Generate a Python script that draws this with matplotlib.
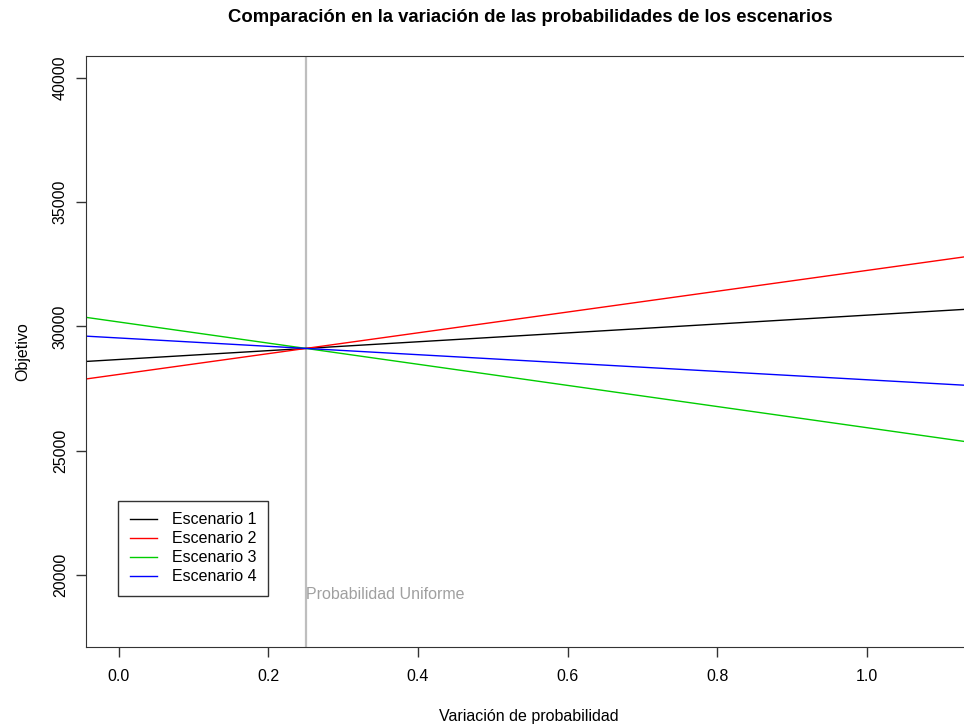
import numpy as np
import matplotlib.pyplot as plt

# Objective value for each scenario as its probability varies
prob = [-0.1, 0.25, 1.2]
escenario_1 = [28490, 29114, 30809]
escenario_2 = [27650, 29114, 33088]
escenario_3 = [30602, 29114, 25075]
escenario_4 = [29702, 29114, 27517]
series = [escenario_1, escenario_2, escenario_3, escenario_4]
labels = ["Escenario 1", "Escenario 2", "Escenario 3", "Escenario 4"]
colors = ["black", "#FF0000", "#00CD00", "#0000FF"]

uniform_p = 0.25

plt.rcParams.update({
    "font.family": ["Liberation Sans", "DejaVu Sans"],
    "font.size": 11.5,
})

fig = plt.figure(figsize=(9.64, 7.25), dpi=100)
ax = fig.add_axes([86 / 964, 1 - 647 / 725, 1 - 86 / 964, (647 - 56) / 725])

for vals, lab, c in zip(series, labels, colors):
    ax.plot(prob, vals, color=c, lw=1.0, label=lab)

ax.axvline(uniform_p, color="#BEBEBE", lw=1.6, zorder=0)
ax.text(uniform_p, 19200, "Probabilidad Uniforme", color="#A0A0A0",
        ha="left", va="center", fontsize=11.5)

ax.set_xlim(-0.044, 1.130)
ax.set_ylim(17100, 40880)
ax.set_xticks([0.0, 0.2, 0.4, 0.6, 0.8, 1.0])
ax.set_xticklabels(["0.0", "0.2", "0.4", "0.6", "0.8", "1.0"])
ax.set_yticks([20000, 25000, 30000, 35000, 40000])
ax.set_yticklabels(["20000", "25000", "30000", "35000", "40000"],
                   rotation=90, va="center")
ax.tick_params(axis="both", length=7, width=1, colors="#333333",
               labelcolor="black", labelsize=11.5)
ax.tick_params(axis="x", pad=9)
ax.tick_params(axis="y", pad=6)
for s in ax.spines.values():
    s.set_color("#333333")
ax.spines["right"].set_visible(False)

fig.text(529 / 964, 1 - 717 / 725, "Variación de probabilidad",
         ha="center", va="center", fontsize=11.5)
ax.set_ylabel("Objetivo", labelpad=16, fontsize=11.5)
fig.suptitle("Comparación en la variación de las probabilidades de los escenarios",
             x=530 / 964, y=1 - 18 / 725, va="center", fontsize=13.3, fontweight="bold")

leg = ax.legend(loc="upper left", bbox_to_anchor=(32 / 878, 146 / 591),
                frameon=True, fancybox=False, edgecolor="black",
                borderaxespad=0, handlelength=1.75, handletextpad=0.9,
                labelspacing=0.25, borderpad=0.72, fontsize=11.5)
leg.get_frame().set_linewidth(1.0)

fig.savefig("out.png", dpi=100)
